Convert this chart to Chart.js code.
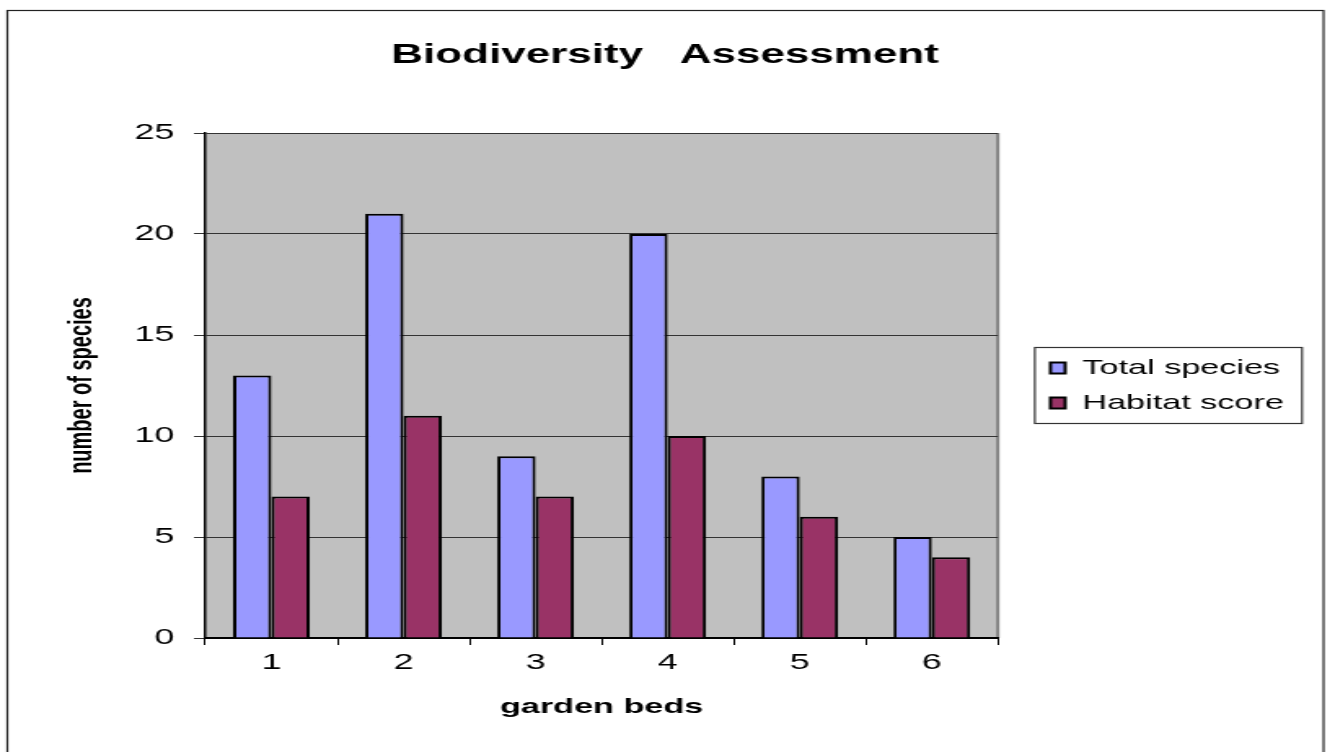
<!DOCTYPE html>
<html>
<head>
<meta charset="utf-8">
<script src="https://cdn.jsdelivr.net/npm/chart.js@4.4.0/dist/chart.umd.min.js"></script>
<style>
  html, body { margin: 0; padding: 0; background: #fff; overflow: hidden; }
  /* the source picture is a horizontally stretched bitmap, so draw narrow and stretch */
  #wrap { width: 816px; height: 752px; transform: scaleX(1.63); transform-origin: 0 0; }
</style>
</head>
<body>
<div id="wrap"><canvas id="chart" width="816" height="752"></canvas></div>
<script>
const gardenBeds = ['1', '2', '3', '4', '5', '6'];
const totalSpecies = [13, 21, 9, 20, 8, 5];
const habitatScore = [7, 11, 7, 10, 6, 4];

const FONT = '"Liberation Sans", Arial, sans-serif';

const plotBackground = {
  id: 'plotBackground',
  beforeDraw(chart) {
    const { ctx, chartArea: a } = chart;
    ctx.save();
    ctx.fillStyle = '#c0c0c0';
    ctx.fillRect(a.left, a.top, a.right - a.left, a.bottom - a.top);
    ctx.strokeStyle = '#808080';
    ctx.lineWidth = 2;
    ctx.beginPath();
    ctx.moveTo(a.right, a.top);
    ctx.lineTo(a.right, a.bottom);
    ctx.stroke();
    ctx.restore();
  }
};

const frames = {
  id: 'frames',
  afterDraw(chart) {
    const { ctx, legend } = chart;
    ctx.save();
    ctx.strokeStyle = '#222';
    ctx.lineWidth = 1.2;
    ctx.strokeRect(4.5, 10.5, chart.width - 8.5, chart.height + 10);
    const boxes = legend.legendHitBoxes;
    if (boxes.length) {
      const first = boxes[0];
      const last = boxes[boxes.length - 1];
      const left = first.left - 9.6;
      const top = first.top - 10;
      const right = legend.right + 1.1;
      const bottom = last.top + last.height + 10;
      ctx.strokeStyle = '#333';
      ctx.strokeRect(left, top, right - left, bottom - top);
    }
    ctx.restore();
  }
};

new Chart(document.getElementById('chart'), {
  type: 'bar',
  data: {
    labels: gardenBeds,
    datasets: [
      {
        label: 'Total species',
        data: totalSpecies,
        backgroundColor: '#9999ff',
        borderColor: '#000',
        borderWidth: 2,
        categoryPercentage: 0.58,
        barPercentage: 1,
      },
      {
        label: 'Habitat score',
        data: habitatScore,
        backgroundColor: '#993366',
        borderColor: '#000',
        borderWidth: 2,
        categoryPercentage: 0.58,
        barPercentage: 1,
      },
    ],
  },
  options: {
    responsive: false,
    animation: false,
    layout: { padding: 0 },
    plugins: {
      title: {
        display: true,
        text: 'Biodiversity   Assessment',
        color: '#000',
        font: { family: FONT, size: 27, weight: 'bold' },
        padding: { top: 39, bottom: 61.6 },
      },
      legend: {
        position: 'right',
        fullSize: false,
        maxWidth: 220,
        labels: {
          boxWidth: 9,
          boxHeight: 11,
          padding: 14,
          color: '#000',
          font: { family: FONT, size: 21 },
        },
      },
      tooltip: { enabled: false },
    },
    scales: {
      x: {
        ticks: { padding: 5, color: '#000', font: { family: FONT, size: 22 } },
        grid: { drawOnChartArea: false, offset: true, color: '#000', tickLength: 7 },
        border: { color: '#000', width: 2 },
        title: {
          display: true,
          text: 'garden beds',
          color: '#000',
          font: { family: FONT, size: 21, weight: 'bold' },
          padding: { top: 0, bottom: 32.4 },
        },
        afterFit(s) { s.height = 114; },
      },
      y: {
        min: 0,
        max: 25,
        ticks: { stepSize: 5, padding: 12, color: '#000', font: { family: FONT, size: 22 } },
        grid: { color: '#333', lineWidth: 1, tickLength: 7 },
        border: { color: '#000', width: 1.5 },
        title: {
          display: true,
          text: 'number of species',
          color: '#000',
          font: { family: FONT, size: 20, weight: 'bold' },
          padding: { top: 38, bottom: 0 },
        },
        afterFit(s) { s.width = 126; },
      },
      // empty spacer between plot and legend
      gap: {
        type: 'linear',
        position: 'right',
        grid: { display: false },
        ticks: { display: false },
        border: { display: false },
        afterFit(s) { s.width = 18.3; },
      },
      // empty spacer right of the legend
      edge: {
        type: 'linear',
        position: 'right',
        weight: 2000,
        grid: { display: false },
        ticks: { display: false },
        border: { display: false },
        afterFit(s) { s.width = 18.3; },
      },
    },
  },
  plugins: [plotBackground, frames],
});
</script>
</body>
</html>
